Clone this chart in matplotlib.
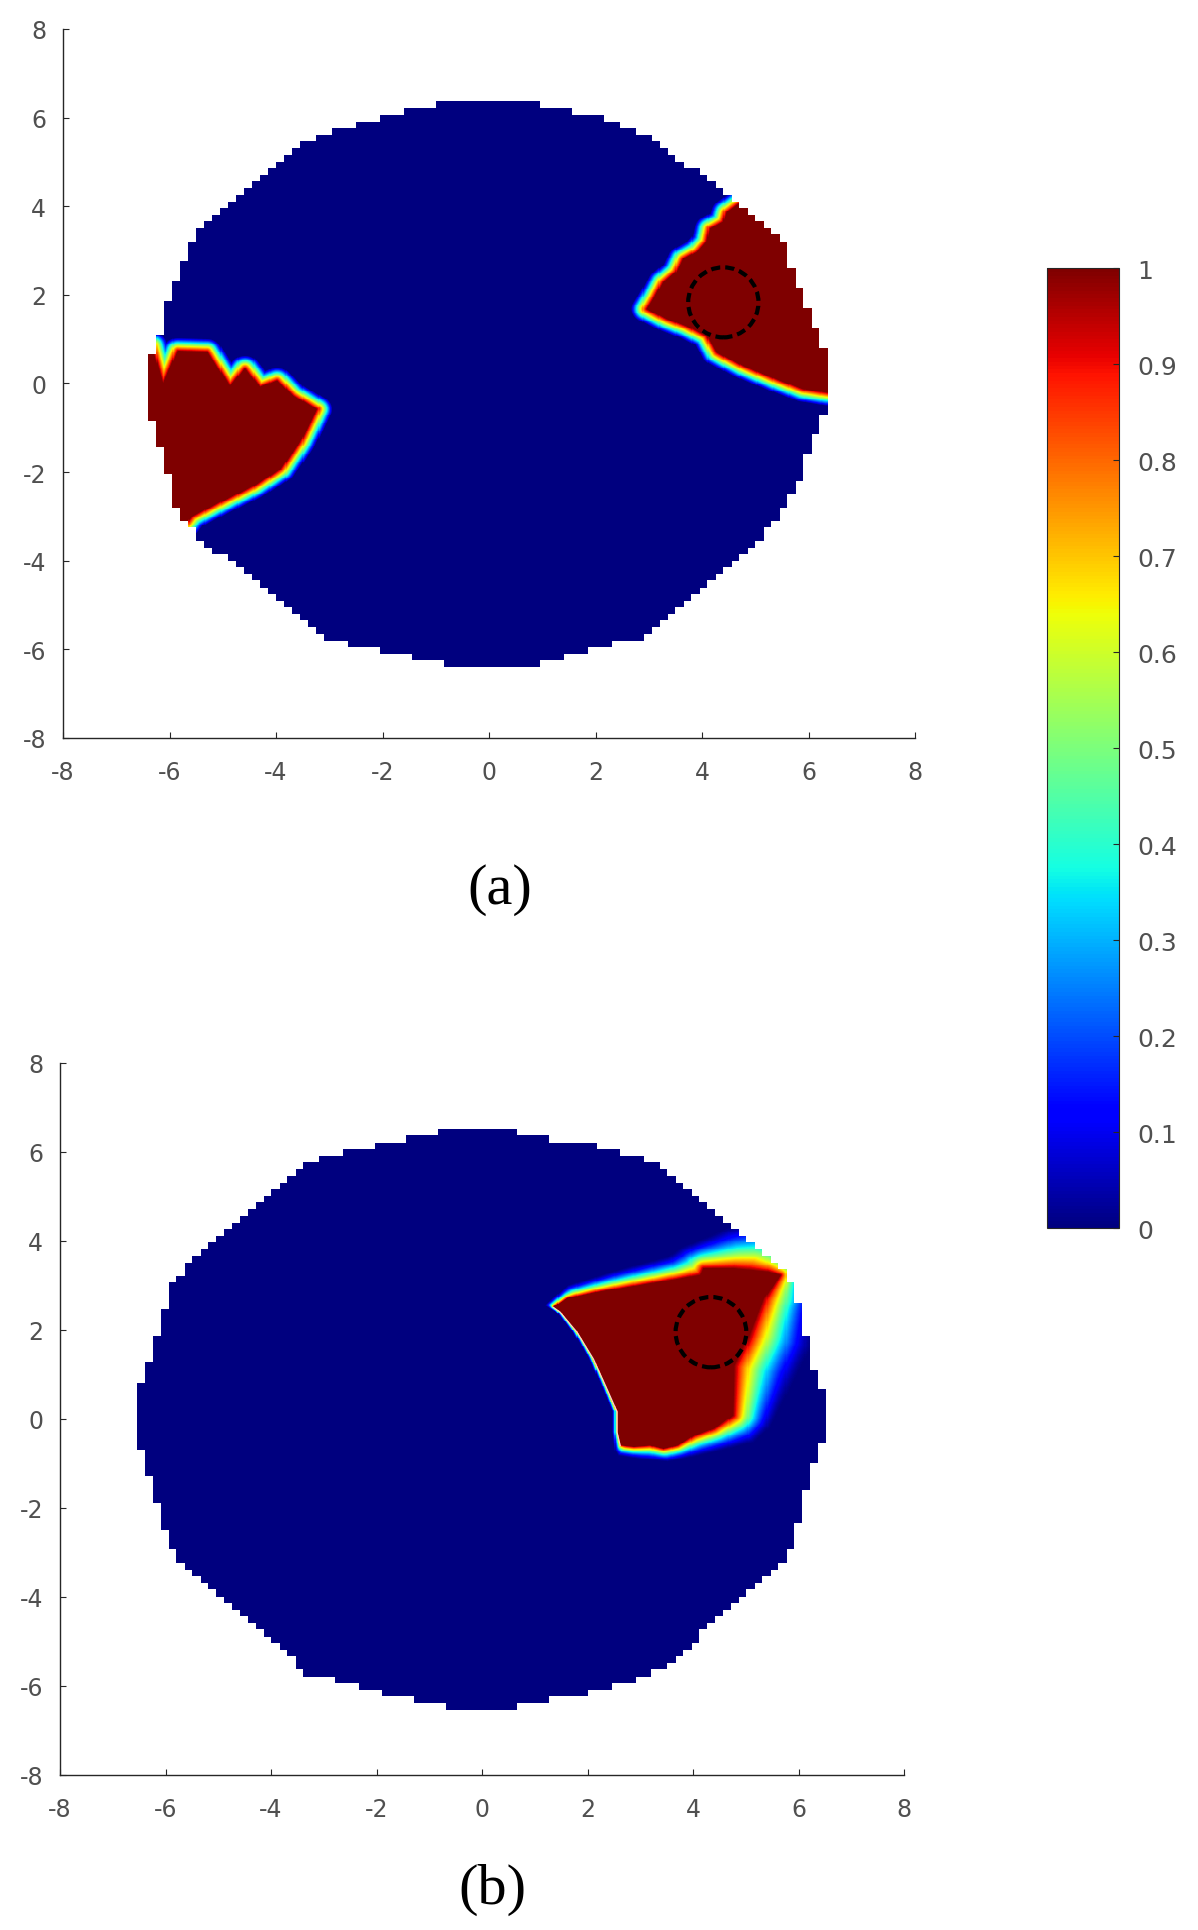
import numpy as np
import matplotlib
matplotlib.use("Agg")
import matplotlib.pyplot as plt
from matplotlib.path import Path
from matplotlib.patches import Ellipse
from matplotlib.cm import ScalarMappable
from matplotlib.colors import Normalize

plt.rcParams["axes.unicode_minus"] = False
plt.rcParams["font.family"] = ["DejaVu Sans"]

# ---- data (axis units) ----
# domain outline, panel (a)
a_out_x = [-0.46, 0.40, 1.19, 1.96, 2.95, 4.71, 5.48, 6.04, 6.42, 6.42, 6.15, 5.81, 5.04, 2.95,
           1.41, 0.42, -0.46, -1.45, -3.00, -5.53, -5.86, -6.41, -6.41, -6.19, -5.97, -5.75,
           -5.42, -3.44, -2.77, -1.90, -1.34]
a_out_y = [6.42, 6.42, 6.20, 6.03, 5.60, 4.06, 3.28, 1.42, 0.33, -0.25, -0.98, -2.30, -3.61, -5.69,
           -6.18, -6.45, -6.45, -6.18, -5.80, -3.39, -2.84, -0.44, 0.33, 0.98, 2.08, 2.73,
           3.50, 5.47, 5.74, 6.02, 6.18]

# domain outline, panel (b)
b_out_x = [-0.47, 0.42, 0.87, 1.98, 2.54, 3.26, 5.71, 5.99, 6.16, 6.32, 6.55, 6.55, 6.32, 6.16,
           5.93, 5.71, 3.32, 2.87, 1.98, 0.87, 0.42, -0.47, -0.91, -1.92, -2.92, -3.31, -5.70,
           -5.92, -6.15, -6.32, -6.54, -6.48, -6.26, -5.99, -5.93, -5.71, -3.31, -2.47, -1.36,
           -0.86]
b_out_y = [6.56, 6.56, 6.34, 6.18, 6.01, 5.74, 3.29, 2.53, 1.76, 0.89, 0.46, -0.30, -0.85, -1.50,
           -2.59, -3.25, -5.70, -5.86, -6.19, -6.41, -6.57, -6.57, -6.41, -6.19, -5.86, -5.75,
           -3.25, -2.92, -2.05, -1.29, -0.41, 0.78, 1.44, 2.53, 2.96, 3.29, 5.74, 6.01, 6.29,
           6.39]

# panel (a): saturated regions (value 1)
a_left_x = [-7.0, -6.33, -6.12, -5.84, -5.30, -4.86, -4.58, -4.30, -3.98, -3.68, -3.23, -3.55,
            -3.92, -4.43, -5.05, -5.58, -5.80, -7.0]
a_left_y = [0.85, 0.85, -0.01, 0.73, 0.71, -0.06, 0.33, -0.08, 0.06, -0.28, -0.58, -1.32,
            -1.93, -2.31, -2.67, -2.99, -3.30, -3.60]
a_right_x = [2.96, 3.09, 3.27, 3.52, 3.65, 3.90, 4.09, 4.15, 4.40, 4.46, 4.70, 5.60, 7.0, 7.0,
             6.34, 5.90, 5.40, 4.78, 4.28, 4.09, 3.71, 3.34]
a_right_y = [1.68, 1.91, 2.28, 2.51, 2.81, 2.96, 3.19, 3.49, 3.64, 3.86, 4.05, 4.70, 4.70, -0.25,
             -0.20, -0.12, 0.10, 0.40, 0.70, 1.08, 1.30, 1.46]

# panel (b): saturated core and the line where the field reaches 0
b_core_x = [2.62, 2.56, 2.56, 2.37, 2.11, 1.80, 1.48, 1.35, 1.61, 2.24, 3.18, 4.13, 4.19, 4.76,
            5.40, 5.65, 5.33, 5.02, 4.76, 4.74, 4.38, 4.00, 3.69, 3.43, 3.18, 2.87]
b_core_y = [-0.60, -0.30, 0.16, 0.67, 1.35, 1.95, 2.40, 2.51, 2.70, 2.85, 3.03, 3.22, 3.37, 3.37,
            3.30, 3.22, 2.70, 1.80, 1.19, 0.07, -0.22, -0.38, -0.60, -0.67, -0.60, -0.63]
b_zero_x = [2.50, 2.46, 2.46, 2.27, 2.01, 1.70, 1.38, 1.16, 1.61, 2.56, 3.51, 3.75, 4.27, 4.64,
            5.14, 5.80, 6.35, 6.25, 5.75, 5.45, 5.14, 4.27, 3.51, 3.00, 2.56]
b_zero_y = [-0.72, -0.30, 0.16, 0.67, 1.35, 1.95, 2.40, 2.54, 3.00, 3.35, 3.65, 3.85, 4.10, 4.30,
            4.45, 4.25, 2.70, 1.60, 0.45, -0.22, -0.55, -0.80, -0.98, -0.92, -0.84]

# dashed target circles: centre x, centre y, half width, half height
circle_a = (4.40, 1.83, 0.66, 0.79)
circle_b = (4.34, 1.95, 0.67, 0.79)

cbar_ticks = [0, 0.1, 0.2, 0.3, 0.4, 0.5, 0.6, 0.7, 0.8, 0.9, 1]

# ---- helpers ----
LIM = 7.0
FINE = 0.02
CELL = 0.15
xs = np.arange(-LIM + FINE / 2, LIM, FINE)
X, Y = np.meshgrid(xs, xs)
PTS = np.column_stack([X.ravel(), Y.ravel()])


def inside(vx, vy, pts=PTS, shape=X.shape):
    return Path(np.column_stack([vx, vy])).contains_points(pts).reshape(shape)


def edge_dist(vx, vy):
    d = np.full(X.shape, np.inf)
    n = len(vx)
    for i in range(n):
        x0, y0 = vx[i], vy[i]
        dx, dy = vx[(i + 1) % n] - x0, vy[(i + 1) % n] - y0
        t = np.clip(((X - x0) * dx + (Y - y0) * dy) / (dx * dx + dy * dy), 0, 1)
        d = np.minimum(d, np.hypot(X - x0 - t * dx, Y - y0 - t * dy))
    return d


def domain_mask(vx, vy):
    # coarse cells, so the outer edge comes out blocky as in the original
    cs = np.arange(-LIM + CELL / 2, LIM, CELL)
    CX, CY = np.meshgrid(cs, cs)
    cin = inside(vx, vy, np.column_stack([CX.ravel(), CY.ravel()]), CX.shape)
    idx = np.clip(((xs + LIM) / CELL).astype(int), 0, len(cs) - 1)
    return cin[np.ix_(idx, idx)]


def ramp_field(vx, vy, width):
    d = edge_dist(vx, vy)
    d[inside(vx, vy)] = 0
    return np.clip(1 - d / width, 0, 1)


def two_line_field(cx, cy, zx, zy):
    d_in = edge_dist(cx, cy)
    d_in[inside(cx, cy)] = 0
    d_out = edge_dist(zx, zy)
    d_out[~inside(zx, zy)] = 0
    tot = d_in + d_out
    s = np.where(tot > 0, d_out / np.where(tot > 0, tot, 1), 0)
    return s ** 1.5


field_a = np.maximum(ramp_field(a_left_x, a_left_y, 0.3), ramp_field(a_right_x, a_right_y, 0.3))
field_a[~domain_mask(a_out_x, a_out_y)] = np.nan
field_b = two_line_field(b_core_x, b_core_y, b_zero_x, b_zero_y)
field_b[~domain_mask(b_out_x, b_out_y)] = np.nan

# ---- figure ----
fig = plt.figure(figsize=(11.98, 19.31), dpi=100)
ax_a = fig.add_axes([0.0526, 0.6173, 0.7112, 0.3672])
ax_b = fig.add_axes([0.0501, 0.0803, 0.7045, 0.3687])
cax = fig.add_axes([0.8740, 0.3635, 0.0601, 0.4971])

tick_col = "#505050"
for ax, field, circ in [(ax_a, field_a, circle_a), (ax_b, field_b, circle_b)]:
    ax.imshow(field, extent=(-LIM, LIM, -LIM, LIM), origin="lower", cmap="jet",
              vmin=0, vmax=1, aspect="auto", interpolation="nearest")
    ax.add_patch(Ellipse((circ[0], circ[1]), 2 * circ[2], 2 * circ[3], fill=False,
                         edgecolor="black", linewidth=3.0, linestyle=(0, (2.2, 1.2)), zorder=5))
    ax.set_xlim(-8, 8)
    ax.set_ylim(-8, 8)
    ax.set_xticks(range(-8, 9, 2))
    ax.set_yticks(range(-8, 9, 2))
    for side in ("top", "right"):
        ax.spines[side].set_visible(False)
    for side in ("left", "bottom"):
        ax.spines[side].set_color("#262626")
        ax.spines[side].set_linewidth(1.0)
    ax.tick_params(direction="in", length=4.5, width=0.8, colors="#262626",
                   labelcolor=tick_col, labelsize=17)
    ax.tick_params(axis="x", pad=16)
    ax.tick_params(axis="y", pad=12)

# the thin light seam along the sharp left edge of the region in (b)
ax_b.plot(b_core_x[:8], b_core_y[:8], color="#f0d6d6", linewidth=0.9, zorder=4)

cb = fig.colorbar(ScalarMappable(norm=Normalize(0, 1), cmap="jet"), cax=cax, ticks=cbar_ticks)
cb.ax.set_yticklabels([f"{t:g}" for t in cbar_ticks])
cb.ax.tick_params(direction="in", length=4, width=0.8, colors="#262626",
                  labelcolor=tick_col, labelsize=18, pad=13)
cb.outline.set_linewidth(0.8)
cb.outline.set_edgecolor("#262626")

fig.text(0.417, 0.539, "(a)", ha="center", va="center", fontsize=42, family="Liberation Serif")
fig.text(0.411, 0.0212, "(b)", ha="center", va="center", fontsize=42, family="Liberation Serif")

fig.savefig("out.png", dpi=100)
